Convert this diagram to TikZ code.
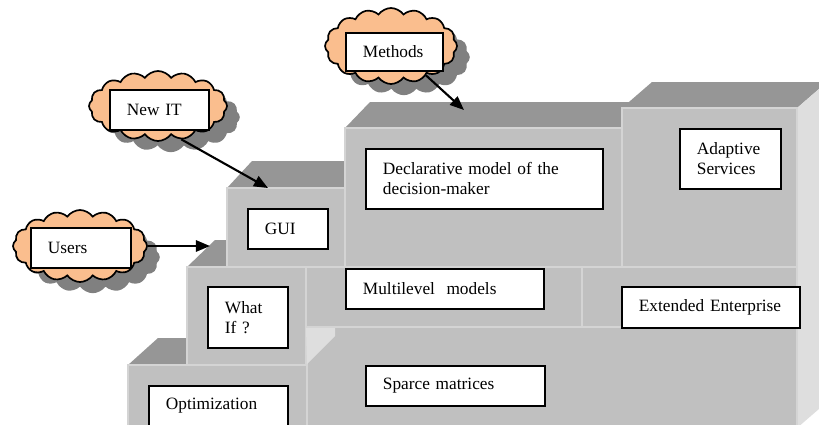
\documentclass[tikz,border=0pt]{standalone}
\usepackage{fontspec}
\setmainfont{Liberation Serif}
\usepackage{tikz}
\usetikzlibrary{shapes.symbols,shadows,arrows.meta}
\usepackage{xcolor}
\definecolor{frontgray}{RGB}{192,192,192}
\definecolor{topgray}{RGB}{150,150,150}
\definecolor{sidegray}{RGB}{222,222,222}
\definecolor{edgegray}{RGB}{212,212,212}
\definecolor{cloudorange}{RGB}{250,190,142}
\definecolor{shadowgray}{RGB}{128,128,128}

\begin{document}
\begin{tikzpicture}[x=0.025cm, y=-0.025cm,
		frontface/.style={fill=frontgray, draw=edgegray, line width=0.8pt},
		topface/.style={fill=topgray},
		sideface/.style={fill=sidegray},
		txtbox/.style={draw, fill=white, line width=1.3pt, anchor=north west, inner xsep=0.425cm, inner ysep=0pt, align=left, font=\fontsize{12.3}{14.2}\selectfont},
		puff/.style={cloud, cloud puffs=16, cloud puff arc=110, cloud ignores aspect, draw, line width=1.2pt, fill=cloudorange, drop shadow={shadow xshift=0.32cm, shadow yshift=-0.28cm, fill=shadowgray, opacity=1}},
		pointer/.style={-{Triangle[length=10pt,width=8pt]}, line width=1.5pt}]
	\useasboundingbox (0,0) rectangle (819,424);
	\clip (0,0) rectangle (819,424);
	% top and side faces of the steps
	\fill[topface] (128,365) -- (158,338) -- (215,338) -- (187,365) -- cycle;
	\fill[topface] (187,267) -- (215,240) -- (255,240) -- (227,267) -- cycle;
	\fill[topface] (227,188) -- (252,161) -- (372,161) -- (345,188) -- cycle;
	\fill[topface] (345,128) -- (370,102) -- (652,102) -- (622,128) -- cycle;
	\fill[topface] (622,108) -- (652,82) -- (827,82) -- (797,108) -- cycle;
	\fill[sideface] (797,108) -- (827,82) -- (827,402) -- (797,428) -- cycle;
	% front faces
	\draw[frontface] (128,365) rectangle (307,430);
	\draw[frontface] (307,327) rectangle (797,430);
	\draw[frontface] (187,267) rectangle (306,365);
	\draw[frontface] (306,267) rectangle (582,327);
	\draw[frontface] (582,267) rectangle (797,327);
	\draw[frontface] (227,188) rectangle (345,267);
	\draw[frontface] (345,128) rectangle (622,267);
	\draw[frontface] (622,108) rectangle (797,267);
	\fill[sideface] (306,328) -- (335,328) -- (335,336) -- (307,364) -- cycle;
	% clouds
	\node[puff, minimum width=3.3cm, minimum height=1.9cm] (methodscloud) at (391,46) {};
	\node[puff, minimum width=3.45cm, minimum height=1.75cm] (newitcloud) at (158,106) {};
	\node[puff, minimum width=3.35cm, minimum height=1.8cm] (userscloud) at (80,246) {};
	\coordinate (methodstip) at (464,110);
	\coordinate (newittip) at (268,188);
	\coordinate (userstip) at (210,246);
	\draw[pointer] (methodscloud.-40) -- (methodstip);
	\draw[pointer] (newitcloud.-55) -- (newittip);
	\draw[pointer] (userscloud.east) -- (userstip);
	% labels
	\node[txtbox, text width=1.575cm, minimum height=0.95cm] (methods) at (345,32) {Methods};
	\node[txtbox, text width=1.625cm, minimum height=1cm] (newit) at (109,89) {New~IT};
	\node[txtbox, text width=1.65cm, minimum height=1cm] (users) at (30,227) {Users};
	\node[txtbox, text width=1.15cm, minimum height=1cm] (gui) at (247,208) {GUI};
	\node[txtbox, text width=5.075cm, minimum height=1.5cm] (declar) at (365,148) {Declarative model of the\\decision-maker};
	\node[txtbox, text width=1.675cm, minimum height=1.5cm] (adapt) at (679,128) {Adaptive\\Services};
	\node[txtbox, text width=1.15cm, minimum height=1.525cm] (whatif) at (207,286) {What\\If~?};
	\node[txtbox, text width=4.1cm, minimum height=1cm] (multi) at (345,268) {Multilevel~~models};
	\node[txtbox, text width=3.6cm, minimum height=1.025cm] (extent) at (621,286) {Extended~Enterprise};
	\node[txtbox, text width=3.625cm, minimum height=1cm] (sparce) at (365,365) {Sparce~matrices};
	\node[txtbox, text width=2.625cm, minimum height=1cm] (optim) at (148,385) {Optimization};
\end{tikzpicture}
\end{document}
